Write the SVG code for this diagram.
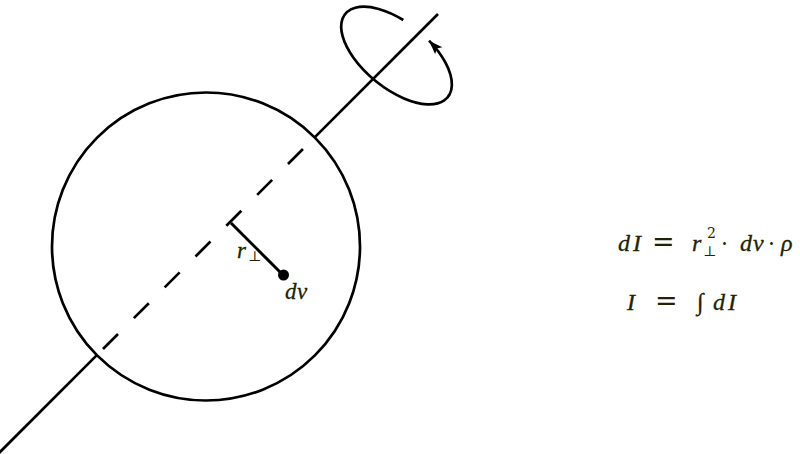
<svg xmlns="http://www.w3.org/2000/svg" width="800" height="454" viewBox="0 0 800 454">
<style>
.ln{stroke:#000;stroke-width:2.7;fill:none}
.tx{font-family:"Liberation Serif","DejaVu Serif",serif;fill:#222200;stroke:#222200;stroke-width:0.3;font-style:italic}
.up{font-family:"DejaVu Serif","Liberation Serif",serif;font-style:normal;stroke:none}
</style>
<defs>
<marker id="ah" markerUnits="userSpaceOnUse" markerWidth="16" markerHeight="12" refX="14" refY="5" orient="auto">
<path d="M0,0 L14,5 L0,10 L3,5 Z" fill="#000"/>
</marker>
</defs>
<g id="body">
<circle cx="206" cy="246.5" r="154" class="ln"/>
</g>
<g id="connectors">
<line class="ln" x1="-2" y1="454" x2="96.6" y2="355.4"/>
<line class="ln" x1="103" y1="349" x2="303.5" y2="148.5" stroke-dasharray="21.2 22.4"/>
<line class="ln" x1="314.4" y1="137.6" x2="438" y2="14"/>
<line class="ln" x1="231" y1="223" x2="283" y2="275" style="stroke-width:3"/>
<path class="ln" d="M403.3,20 A66,33 39 1 0 429.06,40.67" marker-end="url(#ah)"/>
</g>
<g id="dv">
<circle cx="283.5" cy="275" r="5.5" fill="#000"/>
<text class="tx" x="285" y="299" font-size="23">d<tspan x="297">v</tspan></text>
</g>
<g id="rperp">
<text class="tx" x="237" y="258" font-size="23">r</text>
<text class="tx up" x="248" y="261" font-size="14">⊥</text>
</g>
<g id="formula1">
<text class="tx" x="618" y="251" font-size="24">d<tspan x="633">I</tspan></text>
<text class="tx up" x="652" y="251" font-size="27">=</text>
<text class="tx" x="692" y="251" font-size="24">r</text>
<text class="tx up" x="707" y="238" font-size="14">2</text>
<text class="tx up" x="703" y="256" font-size="14">⊥</text>
<text class="tx up" x="721" y="251" font-size="22">·</text>
<text class="tx" x="740" y="251" font-size="24">d<tspan x="753">v</tspan></text>
<text class="tx up" x="768" y="251" font-size="22">·</text>
<text class="tx" x="781" y="251" font-size="24">ρ</text>
</g>
<g id="formula2">
<text class="tx" x="627" y="310" font-size="24">I</text>
<text class="tx up" x="655" y="310" font-size="27">=</text>
<text class="tx" x="697" y="310" font-size="24">∫</text>
<text class="tx" x="713" y="310" font-size="24">d<tspan x="728">I</tspan></text>
</g>
</svg>
